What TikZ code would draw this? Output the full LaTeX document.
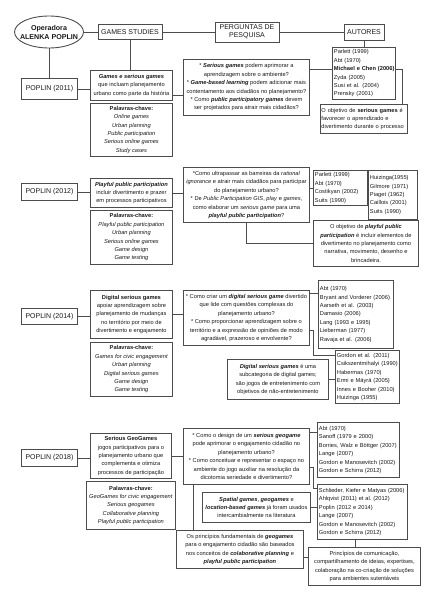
\documentclass[tikz,border=0pt]{standalone}
\usepackage{fontspec}
\setmainfont{Liberation Sans}
\usetikzlibrary{positioning,shapes.geometric}
\newcommand{\bi}[1]{\textbf{\textit{#1}}}
\hyphenpenalty=10000
\exhyphenpenalty=10000
\tikzset{
  box/.style={draw=black!70, line width=0.9pt, text=black!90, align=center,
    inner xsep=1.5pt, inner ysep=1pt, anchor=north west,
    font=\fontsize{5.7}{8.4}\selectfont},
  head/.style={box, font=\fontsize{7}{8.4}\selectfont},
  authors/.style={box, align=left, text width=#1},
  link/.style={draw=black!70, line width=0.9pt}
}

\begin{document}
\begin{tikzpicture}[x=1pt,y=-1pt]
   \useasboundingbox (0,0) rectangle (424,600);
   % top row
   \node[ellipse, draw=black!70, line width=0.9pt, text=black!90, align=center,
     minimum width=69pt, minimum height=32pt, inner xsep=-7pt, inner ysep=2pt,
     font=\fontsize{7.1}{9}\selectfont\bfseries] (op) at (49,32) {Operadora\\ALENKA POPLIN};
   \node[head, anchor=center, minimum width=64pt, minimum height=15pt] (gs) at (130,32) {GAMES STUDIES};
   \node[head, anchor=center, minimum width=64pt, minimum height=20pt] (pp) at (247,32) {PERGUNTAS DE\\PESQUISA};
   \node[head, anchor=center, minimum width=40pt, minimum height=16pt] (au) at (364,32) {AUTORES};
   % 2011
   \node[head, minimum width=56pt, minimum height=21pt] (p11) at (21,78) {POPLIN (2011)};
   \node[box, minimum width=82pt, minimum height=30pt] (t11) at (90,70)
     {\bi{Games e serious games}\\que incluam planejamento\\urbano como parte da história};
   \node[box, minimum width=82pt, minimum height=53pt, below=2pt of t11] (k11)
     {\textbf{Palavras-chave:}\\\textit{Online games}\\\textit{Urban planning}\\\textit{Public participation}\\\textit{Serious online games}\\\textit{Study cases}};
   \node[box, minimum width=126pt, minimum height=56pt] (q11) at (183,59)
     {* \bi{Serious games} podem aprimorar a\\aprendizagem sobre o ambiente?\\* \bi{Game-based learning} podem adicionar mais\\contentamento aos cidadãos no planejamento?\\* Como \bi{public participatory games} devem\\ser projetados para atrair mais cidadãos?};
   \node[authors=60pt, minimum height=52pt] (a11) at (332,47)
     {Parlett (1999)\\Abt (1970)\\\textbf{Michael~e~Chen~(2006)}\\Zyda (2005)\\Susi et al. (2004)\\Prensky (2001)};
   \node[authors=85pt, minimum height=29pt, inner xsep=1pt] (o11) at (320,104)
     {O objetivo de \textbf{serious games} é\\favorecer o aprendizado e\\divertimento durante o processo};
   % 2012
   \node[head, minimum width=56pt, minimum height=17pt] (p12) at (21,183) {POPLIN (2012)};
   \node[box, minimum width=82pt, minimum height=29pt] (t12) at (90,178)
     {\bi{Playful public participation}\\incluir divertimento e prazer\\em processos participativos};
   \node[box, minimum width=82pt, minimum height=54pt, below=2pt of t12] (k12)
     {\textbf{Palavras-chave:}\\\textit{Playful public participation}\\\textit{Urban planning}\\\textit{Serious online games}\\\textit{Game design}\\\textit{Game testing}};
   \node[box, minimum width=126pt, minimum height=55pt] (q12) at (183,167)
     {*Como ultrapassar as barreiras da \textit{rational}\\\textit{ignorance} e atrair mais cidadãos para participar\\do planejamento urbano?\\* De \textit{Public Participation GIS}, \textit{play} e \textit{games},\\como elaborar um \textit{serious game} para uma\\\bi{playful public participation}?};
   \node[authors=51pt, minimum height=35pt] (a12a) at (313,170)
     {Parlett (1999)\\Abt (1970)\\Costikyan (2002)\\Suits (1990)};
   \node[authors=46pt, minimum height=49pt] (a12b) at (368,170)
     {Huizinga(1955)\\Gilmore (1971)\\Piaget (1962)\\Caillois (2001)\\Suits (1990)};
   \node[box, minimum width=105pt, minimum height=46pt] (o12) at (313,220)
     {O objetivo de \bi{playful public}\\\bi{participation} é incluir elementos de\\divertimento no planejamento como\\narrativa, movimento, desenho e\\brincadeira.};
   % 2014
   \node[head, minimum width=56pt, minimum height=16pt] (p14) at (21,308) {POPLIN (2014)};
   \node[box, minimum width=82pt, minimum height=48pt] (t14) at (90,290)
     {\textbf{Digital serious games}\\apoiar aprendizagem sobre\\planejamento de mudanças\\no território por meio de\\divertimento e engajamento};
   \node[box, minimum width=82pt, minimum height=54pt, below=3pt of t14] (k14)
     {\textbf{Palavras-chave:}\\\textit{Games for civic engagement}\\\textit{Urban planning}\\\textit{Digital serious games}\\\textit{Game design}\\\textit{Game testing}};
   \node[box, minimum width=126pt, minimum height=55pt] (q14) at (183,290)
     {* Como criar um \bi{digital serious game} divertido\\que lide com questões complexas do\\planejamento urbano?\\* Como proporcionar aprendizagem sobre o\\território e a expressão de opiniões de modo\\agradável, prazeroso e envolvente?};
   \node[authors=72pt, minimum height=68pt] (a14a) at (318,280)
     {Abt (1970)\\Bryant~and~Vorderer~(2006)\\Aarseth et al. (2003)\\Damasio (2006)\\Lang (1993 e 1995)\\Lieberman (1977)\\Ravaja et al. (2006)};
   \node[authors=61pt, minimum height=53pt] (a14b) at (335,350)
     {Gordon et al. (2011)\\Csikszentmihalyi~(1990)\\Habermas (1970)\\Ermi e Mäyrä (2005)\\Innes~e~Booher~(2010)\\Huizinga (1955)};
   \node[box, minimum width=101pt, minimum height=40pt] (d14) at (227,359)
     {\bi{Digital serious games} é uma\\subcategoria de digital games;\\são jogos de entretenimento com\\objetivos de não-entretenimento};
   % 2018
   \node[head, minimum width=56pt, minimum height=17pt] (p18) at (21,449) {POPLIN (2018)};
   \node[box, minimum width=81pt, minimum height=45pt] (t18) at (90,433)
     {\textbf{Serious GeoGames}\\jogos participativos para o\\planejamento urbano que\\complementa e otimiza\\processos de participação};
   \node[box, minimum width=89pt, minimum height=48pt, below=2pt of t18] (k18)
     {\textbf{Palavras-chave:}\\\textit{GeoGames for civic engagement}\\\textit{Serious geogames}\\\textit{Collaborative planning}\\\textit{Playful public participation}};
   \node[box, minimum width=126pt, minimum height=56pt] (q18) at (183,428)
     {* Como o design de um \bi{serious geogame}\\pode aprimorar o engajamento cidadão no\\planejamento urbano?\\* Como conceituar e representar o espaço no\\ambiente do jogo auxiliar na resolução da\\dicotomia seriedade e divertimento?};
   \node[authors=79pt, minimum height=55pt] (a18a) at (317,422)
     {Abt (1970)\\Sanoff (1979 e 2000)\\Borries,~Walz~e~Böttger~(2007)\\Lange (2007)\\Gordon~e~Manosevitch~(2002)\\Gordon e Schirra (2012)};
   \node[authors=87pt, minimum height=55pt] (a18b) at (317,484)
     {Schlieder,~Kiefer~e~Matyas~(2006)\\Ahlqvist~(2011)~et~al.~(2012)\\Poplin (2012 e 2014)\\Lange (2007)\\Gordon~e~Manosevitch~(2002)\\Gordon e Schirra (2012)};
   \node[box, minimum width=108pt, minimum height=30pt] (sp18) at (202,492)
     {\bi{Spatial games}, \bi{geogames} e\\\bi{location-based games} já foram usados\\intercambialmente na literatura};
   \node[box, minimum width=127pt, minimum height=38pt] (pr18) at (176,530)
     {Os princípios fundamentais de \bi{geogames}\\para o engajamento cidadão são baseados\\nos conceitos de \bi{colaborative planning} e\\\bi{playful public participation}};
   \node[box, minimum width=112pt, minimum height=38pt] (cm18) at (308,547)
     {Princípios de comunicação,\\compartilhamento de ideias, expertises,\\colaboração na co-criação de soluções\\para ambientes sutentáveis};
   % connectors
   \draw[link] (op) -- (gs) -- (pp) -- (au);
   \draw[link] (op.south) -- (op.south |- p11.north);
   \draw[link] (gs.south) -- (gs.south |- t11.north);
   \draw[link] (au.south) -- (au.south |- a11.north);
   \draw[link] (p11.east) -- (p11.east -| t11.west);
   \draw[link] ([yshift=-10pt]t11.east) -- ([yshift=-10pt]t11.east -| q11.west);
   \draw[link] ([yshift=4pt]a11.west -| q11.east) -- ([yshift=4pt]a11.west);
   \draw[link] ([yshift=4pt]a11.east) -| ([xshift=-5pt]o11.north east);
   \draw[link] (p12.east) -- (p12.east -| t12.west);
   \draw[link] (t12.east) -- (t12.east -| q12.west);
   \draw[link] (a12a.west -| q12.east) -- (a12a.west);
   \draw[link] (a12a.east) -- (a12a.east -| a12b.west);
   \draw[link] (q12.south) |- (o12.west);
   \draw[link] (p14.east) -- (p14.east -| t14.west);
   \draw[link] (t14.east) -- (t14.east -| q14.west);
   \draw[link] ([yshift=-3pt]q14.north east) -- ([yshift=-3pt]q14.north east -| a14a.west);
   \draw[link] ([yshift=15pt]q14.south east) -| ([xshift=-22pt,yshift=-5pt]a14b.north west)
     -- ([yshift=-5pt]a14b.north west);
   \draw[link] (d14.east) -- (d14.east -| a14b.west);
   \draw[link] (p18.east) -- (p18.east -| t18.west);
   \draw[link] (t18.east) -- (t18.east -| q18.west);
   \draw[link] ([yshift=-4pt]q18.north east) -- ([yshift=-4pt]q18.north east -| a18a.west);
   \draw[link] ([yshift=17pt]q18.south east) -| ([xshift=-4pt,yshift=-4pt]a18b.north west)
     -- ([yshift=-4pt]a18b.north west);
   \draw[link] (sp18.east) -- (sp18.east -| a18b.west);
   \draw[link] ([xshift=10pt]q18.south west) -- ([xshift=10pt]q18.south west |- pr18.north);
   \draw[link] ([xshift=-7pt]a18b.south) -- ([xshift=-7pt]a18b.south |- cm18.north);
   \draw[link] ([yshift=-8pt]pr18.east) -- ([yshift=-8pt]pr18.east -| cm18.west);
\end{tikzpicture}
\end{document}
